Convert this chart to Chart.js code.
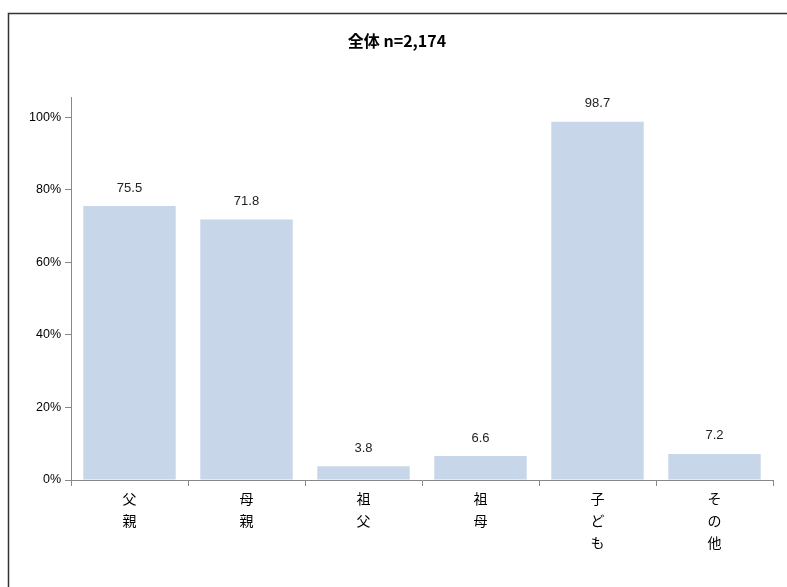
<!DOCTYPE html>
<html>
<head>
<meta charset="utf-8">
<script src="https://cdn.jsdelivr.net/npm/chart.js@4"></script>
<style>
  html, body { margin: 0; padding: 0; background: #fff; overflow: hidden; }
  #wrap { position: absolute; left: 0; top: 0; width: 787px; height: 587px; }
</style>
</head>
<body>
<div id="wrap"><canvas id="chart"></canvas></div>
<script>
// Data
const categories = [['父', '親'], ['母', '親'], ['祖', '父'], ['祖', '母'], ['子', 'ど', 'も'], ['そ', 'の', '他']];
const values = [75.5, 71.8, 3.8, 6.6, 98.7, 7.2];
const yTicks = [0, 20, 40, 60, 80, 100];
const titleText = '全体 n=2,174';

// Frame around the chart (top and left edges of the original box)
const framePlugin = {
    id: 'frame',
    beforeDraw(chart) {
        const ctx = chart.ctx;
        ctx.save();
        ctx.fillStyle = '#fff';
        ctx.fillRect(0, 0, chart.width, chart.height);
        ctx.strokeStyle = '#333';
        ctx.lineWidth = 1.5;
        ctx.beginPath();
        ctx.moveTo(8.5, chart.height);
        ctx.lineTo(8.5, 13.5);
        ctx.lineTo(chart.width, 13.5);
        ctx.stroke();
        ctx.restore();
    }
};

// Value labels above bars
const valueLabels = {
    id: 'valueLabels',
    afterDatasetsDraw(chart) {
        const ctx = chart.ctx;
        const meta = chart.getDatasetMeta(0);
        ctx.save();
        ctx.font = '13px "Liberation Sans", Arial, sans-serif';
        ctx.fillStyle = '#222';
        ctx.textAlign = 'center';
        ctx.textBaseline = 'middle';
        meta.data.forEach((bar, i) => {
            ctx.fillText(values[i].toFixed(1), bar.x, bar.y - 18);
        });
        ctx.restore();
    }
};

const ctx = document.getElementById('chart').getContext('2d');
new Chart(ctx, {
    type: 'bar',
    data: {
        labels: categories,
        datasets: [{
            data: values,
            backgroundColor: '#c8d6e9',
            borderWidth: 0,
            categoryPercentage: 0.79,
            barPercentage: 1.0
        }]
    },
    options: {
        responsive: true,
        maintainAspectRatio: false,
        animation: false,
        layout: { padding: { left: 21, right: 14, top: 0, bottom: 0 } },
        plugins: {
            legend: { display: false },
            tooltip: { enabled: false },
            title: {
                display: true,
                text: titleText,
                color: '#000',
                font: { family: '"Noto Sans CJK JP", sans-serif', size: 16, weight: 'bold' },
                padding: { top: 31, bottom: 47 }
            }
        },
        scales: {
            x: {
                grid: {
                    offset: true,
                    drawOnChartArea: false,
                    drawTicks: true,
                    tickLength: 6,
                    color: '#888'
                },
                border: { color: '#888', width: 1 },
                ticks: {
                    color: '#000',
                    padding: 2,
                    maxRotation: 0,
                    font: { family: '"Noto Sans CJK JP", sans-serif', size: 14, lineHeight: 1.55 }
                },
                afterFit(scale) { scale.height = 107; }
            },
            y: {
                min: 0,
                max: 105.5,
                grid: {
                    drawOnChartArea: false,
                    drawTicks: true,
                    tickLength: 6,
                    color: '#888'
                },
                border: { color: '#888', width: 1 },
                afterBuildTicks(scale) {
                    scale.ticks = yTicks.map(v => ({ value: v }));
                },
                ticks: {
                    color: '#000',
                    padding: 4,
                    font: { family: '"Liberation Sans", Arial, sans-serif', size: 12.5 },
                    callback: v => v + '%'
                },
                afterFit(scale) { scale.width = 50; }
            }
        }
    },
    plugins: [framePlugin, valueLabels]
});
</script>
</body>
</html>
